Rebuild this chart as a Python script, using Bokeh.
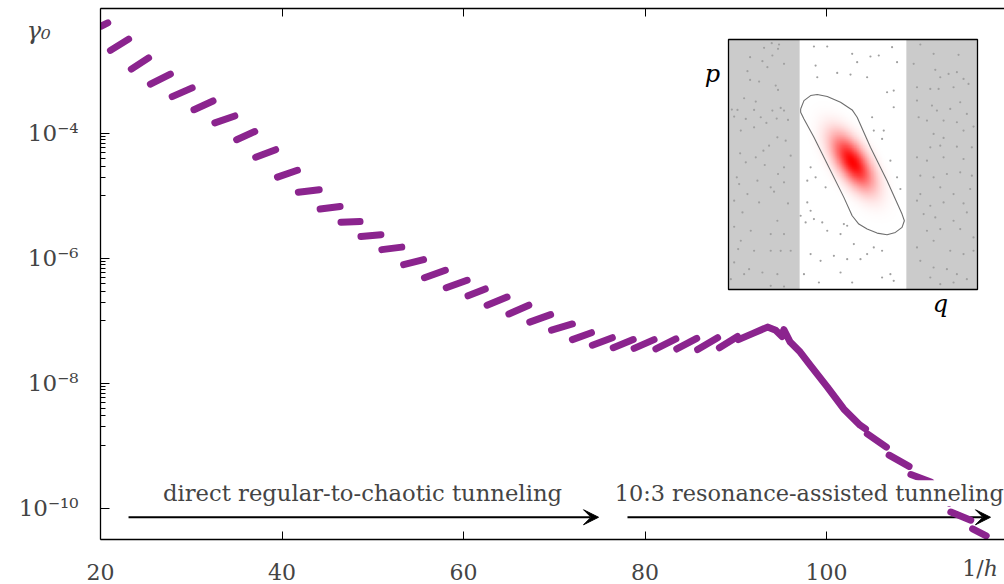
import numpy as np
from bokeh.plotting import figure
from bokeh.models import (Range1d, LinearScale, LinearAxis, FixedTicker, Label,
                          Arrow, VeeHead)
from bokeh.core.properties import value
from bokeh.embed import file_html
from bokeh.resources import INLINE

# ---------------- data ----------------
# sawtooth branches of gamma_0 vs 1/h : start/end of every branch, log10(gamma_0)
seg_x_start = [20.1, 21.1, 23.4, 25.5, 27.9, 30.3, 32.6, 35.0, 37.1, 39.5, 41.8, 44.2,
               46.5, 48.7, 51.0, 53.4, 55.7, 58.1, 60.5, 62.6, 65.0, 67.3, 69.7, 72.0,
               74.2, 76.5, 78.8, 81.2, 83.5, 85.8, 88.2,
               104.5, 106.9, 109.3, 111.6, 113.7, 116.1]
seg_x_end = [20.8, 23.1, 25.3, 27.7, 30.1, 32.4, 34.8, 37.0, 39.3, 41.7, 44.1, 46.4,
             48.6, 50.9, 53.2, 55.6, 58.0, 60.4, 62.4, 64.8, 67.2, 69.6, 72.0, 74.1,
             76.4, 78.7, 81.0, 83.4, 85.7, 88.0, 90.2,
             106.6, 109.1, 111.5, 113.5, 115.9, 117.6]
seg_log_start = [-2.28, -2.67, -2.97, -3.21, -3.41, -3.62, -3.83, -4.10, -4.38, -4.70, -4.94, -5.21,
                 -5.42, -5.65, -5.86, -6.10, -6.31, -6.47, -6.60, -6.75, -6.89, -7.02, -7.15, -7.30,
                 -7.39, -7.43, -7.44, -7.45, -7.45, -7.46, -7.43,
                 -8.81, -9.15, -9.46, -9.72, -10.06, -10.33]
seg_log_end = [-2.23, -2.49, -2.79, -3.05, -3.27, -3.48, -3.72, -3.97, -4.26, -4.59, -4.90, -5.17,
               -5.41, -5.62, -5.82, -6.02, -6.19, -6.35, -6.49, -6.62, -6.75, -6.90, -7.05, -7.19,
               -7.27, -7.30, -7.30, -7.29, -7.28, -7.27, -7.25,
               -9.02, -9.33, -9.58, -9.92, -10.19, -10.44]
# dense part around the 10:3 resonance peak
peak_x = [90.3, 91.9, 93.5, 94.4, 95.1, 95.3, 96.0, 97.1, 98.2, 100.1, 101.9, 103.7, 104.3]
peak_log = [-7.30, -7.20, -7.10, -7.15, -7.25, -7.14, -7.34, -7.50, -7.71, -8.06, -8.41, -8.67, -8.73]

x_ticks = [20, 40, 60, 80, 100]
y_major = [1e-10, 1e-8, 1e-6, 1e-4]
y_minor = [k * 10.0 ** e for e in (-9, -7, -5) for k in range(1, 10)]
y_labels = {1e-10: "10\u207b\u00b9\u2070", 1e-8: "10\u207b\u2078",
            1e-6: "10\u207b\u2076", 1e-4: "10\u207b\u2074"}

# inset (phase space), coordinates on a 0..749 grid
band_left = [0, 214]
band_right = [535, 749]
sea_q = [130, 152, 107, 149, 132, 65, 117, 57, 102, 167, 65, 92, 142, 149, 47, 82, 157, 10, 27, 77,
         132, 167, 17, 52, 97, 145, 179, 114, 77, 37, 147, 172, 187, 122, 105, 35, 82, 52, 109, 167,
         25, 149, 87, 167, 32, 127, 57, 137, 17, 92, 179, 42, 147, 17, 67, 127, 167, 37, 29, 77,
         127, 157, 187, 17, 62, 47, 102, 147, 127, 167, 7,
         257, 297, 372, 387, 427, 452, 492, 507, 262, 327, 367, 267, 417, 477, 497, 497, 432, 467,
         437, 462, 487, 507, 517, 247, 262, 237, 292, 237, 247, 217, 232, 257, 297, 337, 377, 437,
         462, 417, 247, 277, 317, 357, 397, 337, 372, 462, 487, 497, 227, 272, 282, 347, 357,
         577, 617, 692, 557, 622, 637, 662, 687, 707, 567, 607, 632, 677, 722, 567, 612, 627, 667,
         697, 717, 572, 597, 647, 687, 737, 617, 647, 707, 607, 637, 687, 732, 567, 597, 647, 707,
         577, 617, 657, 697, 732, 577, 637, 677, 727, 567, 607, 647, 707, 587, 622, 677, 717, 597,
         637, 697, 737, 567, 617, 667, 707, 737, 577, 617, 657, 687, 717, 607, 637, 677]
sea_p = [738, 734, 724, 721, 701, 696, 666, 654, 684, 676, 628, 623, 611, 598, 573, 563, 544, 539, 538, 538,
         536, 536, 518, 511, 516, 512, 508, 499, 486, 476, 456, 446, 401, 431, 416, 408, 396, 381, 373, 366,
         336, 346, 326, 321, 316, 306, 286, 293, 266, 261, 258, 231, 206, 188, 176, 166, 166, 146, 121, 116,
         116, 116, 116, 81, 61, 46, 51, 46, 11, 9, 31,
         728, 728, 706, 681, 698, 701, 726, 681, 671, 649, 644, 636, 636, 591, 596, 546, 516, 476,
         476, 451, 386, 336, 301, 366, 336, 326, 306, 261, 236, 221, 201, 211, 176, 166, 136, 126,
         116, 106, 106, 86, 101, 91, 91, 51, 21, 36, 46, 26, 46, 21, 201, 196, 191,
         734, 706, 703, 676, 658, 636, 646, 651, 631, 606, 601, 601, 606, 616, 566, 551, 536, 541,
         561, 526, 516, 506, 506, 501, 488, 466, 454, 476, 426, 431, 428, 426, 396, 386, 396, 391,
         341, 336, 346, 351, 341, 286, 306, 286, 301, 266, 251, 261, 258, 226, 216, 206, 231, 176,
         181, 181, 156, 126, 146, 116, 106, 116, 86, 66, 61, 46, 31, 36, 16, 21]
contour_q = [217, 227, 247, 267, 297, 337, 372, 387, 427, 477, 522, 529, 522, 502, 477, 447, 417,
             392, 372, 347, 297, 257, 227, 217, 217]
contour_p = [541, 566, 581, 584, 578, 561, 538, 516, 426, 326, 226, 206, 186, 171, 164, 169, 181,
             196, 221, 276, 376, 456, 511, 531, 541]
state_q, state_p = 372, 381          # centre of the red state
state_sig_long, state_sig_short, state_angle = 64.0, 29.0, -56.8

# ---------------- layout constants ----------------
W, H = 1004, 584
FL, FR, FT, FB = 100, 1004, 8, 539
PX_PER_X = 9.075
FONT = "DejaVu Serif"
PURPLE = "#8b248e"
NBSP = "\u00a0"

p = figure(width=W, height=H,
           x_range=Range1d(20, 20 + (FR - FL) / PX_PER_X),
           y_range=Range1d(10 ** -10.5, 1e-2),
           y_axis_type="log", output_backend="svg", toolbar_location=None,
           min_border_left=FL, min_border_right=0, min_border_top=FT,
           min_border_bottom=H - FB)
p.outline_line_color = None
p.grid.visible = False
p.background_fill_color = "white"

# axes
xa = p.xaxis[0]
xa.ticker = FixedTicker(ticks=x_ticks)
xa.major_tick_in, xa.major_tick_out = 8, 0
xa.minor_tick_line_color = None
xa.major_label_text_font = FONT
xa.major_label_text_font_size = "22px"
xa.major_label_standoff = 24
xa.axis_line_width = 1.3
xa.axis_label = "1/\u210e" + NBSP * 7
xa.axis_label_text_font = FONT
xa.axis_label_text_font_size = "22px"
xa.axis_label_text_font_style = "normal"
xa.axis_label_text_line_height = 0.7
xa.axis_label_align = "end"
xa.axis_label_standoff = -27

ya = p.yaxis[0]
ya.ticker = FixedTicker(ticks=y_major, minor_ticks=y_minor)
ya.major_label_overrides = y_labels
ya.major_tick_in, ya.major_tick_out = 9, 0
ya.minor_tick_in, ya.minor_tick_out = 5, 0
ya.major_label_text_font = FONT
ya.major_label_text_font_size = "23px"
ya.major_label_standoff = 22
ya.axis_line_width = 1.3
ya.axis_label = NBSP + "\n\u03b3\u2080"
ya.axis_label_text_font = FONT
ya.axis_label_text_font_size = "24px"
ya.axis_label_text_font_style = "italic"
ya.axis_label_text_line_height = 1.6
ya.axis_label_orientation = "horizontal"
ya.axis_label_align = "end"
ya.axis_label_standoff = -35

top = LinearAxis(ticker=FixedTicker(ticks=x_ticks), major_tick_in=8, major_tick_out=0,
                 minor_tick_line_color=None, major_label_text_font_size="0px",
                 major_label_standoff=0, axis_line_width=1.3)
p.add_layout(top, "above")

# arrows (under the curve)
y_arrow = 10 ** -10.144
p.add_layout(Arrow(x_start=23.09, y_start=y_arrow, x_end=74.88, y_end=y_arrow, line_width=2,
                   end=VeeHead(size=15, fill_color="black", line_color="black"), level="underlay"))
p.add_layout(Arrow(x_start=78.07, y_start=y_arrow, x_end=118.07, y_end=y_arrow, line_width=2,
                   end=VeeHead(size=15, fill_color="black", line_color="black"), level="underlay"))

# curve
xs = [[a, b] for a, b in zip(seg_x_start, seg_x_end)] + [peak_x]
ys = [[10 ** a, 10 ** b] for a, b in zip(seg_log_start, seg_log_end)] + [[10 ** v for v in peak_log]]
p.multi_line(xs, ys, line_width=7, line_color=PURPLE, line_cap="round", line_join="round")

# annotations
p.add_layout(Label(x=48.87, y=10 ** -9.76, text="direct regular-to-chaotic tunneling",
                   text_font=FONT, text_font_size="22.7px", text_align="center",
                   text_baseline="middle", background_fill_color="white"))
p.add_layout(Label(x=98.1, y=10 ** -9.76, text="10:3 resonance-assisted tunneling",
                   text_font=FONT, text_font_size="22.4px", text_align="center",
                   text_baseline="middle", background_fill_color="white"))

# ---------------- inset ----------------
IQ0, IQ1 = 728, 977      # inset pixel box
IP0, IP1 = 289, 39
uq = 749 / (IQ1 - IQ0)
up = 749 / (IP0 - IP1)
p.extra_x_ranges = {"ix": Range1d((FL - IQ0) * uq, (FR - IQ0) * uq)}
p.extra_y_ranges = {"iy": Range1d((IP0 - FB) * up, (IP0 - FT) * up)}
p.extra_x_scales = {"ix": LinearScale()}
p.extra_y_scales = {"iy": LinearScale()}
kw = dict(x_range_name="ix", y_range_name="iy")

p.quad(left=[0], right=[749], bottom=[0], top=[749], fill_color="white", line_color=None, **kw)
p.quad(left=[band_left[0], band_right[0]], right=[band_left[1], band_right[1]],
       bottom=[0, 0], top=[749, 749], fill_color="#cbcbcb", line_color=None, **kw)
p.scatter(sea_q, sea_p, size=2.2, color="#a0a0a0", line_color=None, **kw)

# red Husimi-like state
n = 220
g = np.linspace(150, 600, n)
qq, pp = np.meshgrid(g, g)
th = np.radians(state_angle)
dq, dp = qq - state_q, pp - state_p
u = dq * np.cos(th) + dp * np.sin(th)
v = -dq * np.sin(th) + dp * np.cos(th)
a = np.exp(-0.5 * (u / state_sig_long) ** 2 - 0.5 * (v / state_sig_short) ** 2)
img = np.empty((n, n), dtype=np.uint32)
view = img.view(dtype=np.uint8).reshape((n, n, 4))
view[:, :, 0] = 255
view[:, :, 1] = 0
view[:, :, 2] = 0
view[:, :, 3] = np.clip(a * 255, 0, 255).astype(np.uint8)
p.image_rgba(image=[img], x=150, y=150, dw=450, dh=450, **kw)

p.line(contour_q, contour_p, line_color="#6e6e6e", line_width=1.1, **kw)
p.quad(left=[0], right=[749], bottom=[0], top=[749], fill_color=None, line_color="black",
       line_width=1.3, **kw)
p.text(x=[(712 - IQ0) * uq], y=[(IP0 - 73) * up], text=["p"], text_font=value(FONT),
       text_font_size="24px", text_font_style="italic", text_align="center",
       text_baseline="middle", **kw)
p.text(x=[(940 - IQ0) * uq], y=[(IP0 - 303) * up], text=["q"], text_font=value(FONT),
       text_font_size="24px", text_font_style="italic", text_align="center",
       text_baseline="middle", **kw)

open("out.html", "w").write(file_html(p, INLINE))
